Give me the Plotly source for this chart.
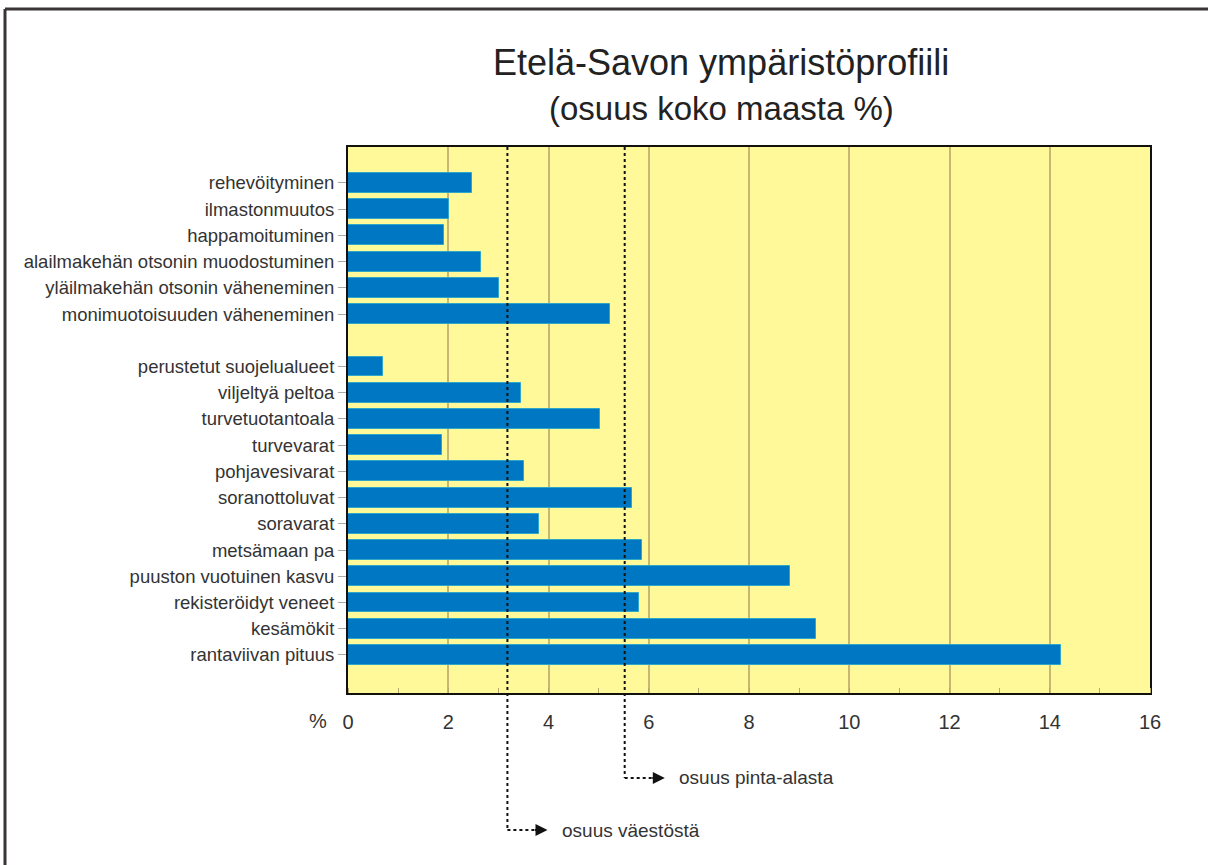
import plotly.graph_objects as go

# ---- data ----
pressure_labels = [
    "rehevöityminen",
    "ilmastonmuutos",
    "happamoituminen",
    "alailmakehän otsonin muodostuminen",
    "yläilmakehän otsonin väheneminen",
    "monimuotoisuuden väheneminen",
]
pressure_values = [2.48, 2.02, 1.91, 2.65, 3.02, 5.23]

resource_labels = [
    "perustetut suojelualueet",
    "viljeltyä peltoa",
    "turvetuotantoala",
    "turvevarat",
    "pohjavesivarat",
    "soranottoluvat",
    "soravarat",
    "metsämaan pa",
    "puuston vuotuinen kasvu",
    "rekisteröidyt veneet",
    "kesämökit",
    "rantaviivan pituus",
]
resource_values = [0.69, 3.45, 5.02, 1.87, 3.52, 5.66, 3.82, 5.87, 8.82, 5.80, 9.34, 14.22]

population_share = 3.18   # osuus väestöstä
area_share = 5.52         # osuus pinta-alasta
x_ticks = [0, 2, 4, 6, 8, 10, 12, 14, 16]

title_text = "Etelä-Savon ympäristöprofiili"
subtitle_text = "(osuus koko maasta %)"
pop_label = "osuus väestöstä"
area_label = "osuus pinta-alasta"

# ---- layout helpers ----
labels = pressure_labels + resource_labels
values = pressure_values + resource_values
positions = list(range(len(pressure_labels))) + [
    len(pressure_labels) + 1 + i for i in range(len(resource_labels))
]
n_slots = positions[-1]

FONT = "Liberation Sans, Arial, Helvetica, sans-serif"
TXT = "#333333"

fig = go.Figure()
fig.add_trace(go.Bar(
    x=values,
    y=positions,
    orientation="h",
    width=0.76,
    marker=dict(color="#0077c2", line=dict(color="#2fa6c8", width=1)),
    hoverinfo="x+text",
    text=labels,
    textposition="none",
))

W, H = 1208, 865
ml, mr, mt, mb = 348, 58, 147, 172
pw, ph = W - ml - mr, H - mt - mb

def px_x(px):
    return (px - ml) / pw

def px_y(py):
    return (H - mb - py) / ph

shapes = []
# dotted reference lines with elbow
for val, y_turn in [(population_share, 830), (area_share, 778)]:
    shapes.append(dict(type="line", xref="x", yref="paper",
                       x0=val, x1=val, y0=1, y1=px_y(y_turn),
                       line=dict(color="#111111", width=2, dash="dot")))
    shapes.append(dict(type="line", xref="x", yref="paper",
                       x0=val, x1=val + 0.62, y0=px_y(y_turn), y1=px_y(y_turn),
                       line=dict(color="#111111", width=2, dash="dot")))
# page frame (top and left)
shapes.append(dict(type="line", xref="paper", yref="paper",
                   x0=px_x(5), x1=px_x(1208), y0=px_y(9), y1=px_y(9),
                   line=dict(color="#3a3436", width=3)))
shapes.append(dict(type="line", xref="paper", yref="paper",
                   x0=px_x(5), x1=px_x(5), y0=px_y(9), y1=px_y(865),
                   line=dict(color="#3a3436", width=3)))

annotations = [
    dict(text=title_text, xref="paper", yref="paper", x=px_x(721), y=px_y(62),
         showarrow=False, font=dict(family=FONT, size=36, color="#222222"),
         xanchor="center", yanchor="middle"),
    dict(text=subtitle_text, xref="paper", yref="paper", x=px_x(721), y=px_y(108),
         showarrow=False, font=dict(family=FONT, size=33, color="#222222"),
         xanchor="center", yanchor="middle"),
    dict(text="%", xref="paper", yref="paper", x=px_x(318), y=px_y(721),
         showarrow=False, font=dict(family=FONT, size=20, color=TXT),
         xanchor="center", yanchor="middle"),
]
for val, y_turn, lab in [(population_share, 830, pop_label), (area_share, 778, area_label)]:
    annotations.append(dict(text="", xref="x", yref="paper", x=val + 0.8, y=px_y(y_turn),
                            ax=-14, ay=0, showarrow=True, arrowhead=2, arrowsize=1.2,
                            arrowwidth=2, arrowcolor="#111111"))
    annotations.append(dict(text=lab, xref="x", yref="paper", x=val + 1.05, y=px_y(y_turn),
                            showarrow=False, xanchor="left", yanchor="middle",
                            font=dict(family=FONT, size=19, color=TXT)))

fig.update_layout(
    width=W, height=H,
    margin=dict(l=ml, r=mr, t=mt, b=mb),
    paper_bgcolor="white",
    plot_bgcolor="#fff99a",
    showlegend=False,
    bargap=0,
    shapes=shapes,
    annotations=annotations,
    font=dict(family=FONT, color=TXT),
    xaxis=dict(
        range=[0, 16],
        tickvals=x_ticks,
        ticktext=[str(v) for v in x_ticks],
        showgrid=True, gridcolor="#c8b672", gridwidth=2,
        zeroline=False,
        showline=True, linecolor="#111111", linewidth=2, mirror=True,
        ticks="", ticklabelstandoff=10,
        tickfont=dict(family=FONT, size=20, color=TXT),
        minor=dict(ticks="inside", dtick=1, tick0=0, ticklen=5, tickcolor="#b8a868",
                   tickwidth=1, showgrid=False),
    ),
    yaxis=dict(
        range=[n_slots + 1.45, -1.37],
        tickvals=positions,
        ticktext=labels,
        showgrid=False, zeroline=False,
        showline=True, linecolor="#111111", linewidth=2, mirror=True,
        ticks="outside", ticklen=8, tickcolor="#aaaaaa", tickwidth=1,
        tickfont=dict(family=FONT, size=18.5, color=TXT),
    ),
)

fig.write_html("out.html", config={"displayModeBar": False},
               post_script="document.body.style.margin='0';")
